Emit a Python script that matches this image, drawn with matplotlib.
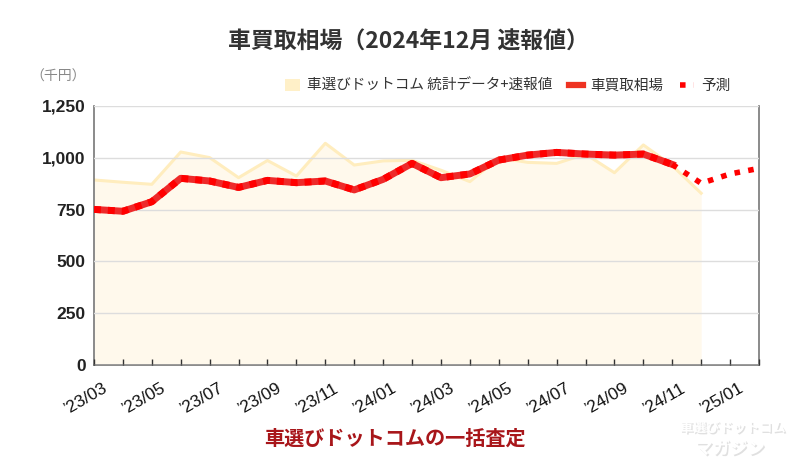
import matplotlib
matplotlib.use("Agg")
import matplotlib.pyplot as plt
from matplotlib.lines import Line2D
from matplotlib.patches import Patch
from matplotlib.transforms import ScaledTranslation
import matplotlib.patheffects as pe

plt.rcParams['font.family'] = ['Liberation Sans', 'Noto Sans CJK JP', 'DejaVu Sans']

months = ["'23/03", "'23/04", "'23/05", "'23/06", "'23/07", "'23/08", "'23/09", "'23/10",
          "'23/11", "'23/12", "'24/01", "'24/02", "'24/03", "'24/04", "'24/05", "'24/06",
          "'24/07", "'24/08", "'24/09", "'24/10", "'24/11", "'24/12", "'25/01", "'25/02"]
month_labels = [m.replace("'", "\u2019") for m in months]

# 車選びドットコム 統計データ+速報値 ('23/03 .. '24/12)
stats_values = [893, 882, 872, 1028, 1001, 904, 987, 912, 1070, 965, 985, 988, 940,
                885, 1000, 978, 973, 1018, 928, 1062, 962, 829]
# 車買取相場 ('23/03 .. '24/11)
market_values = [751, 742, 788, 901, 888, 857, 891, 880, 888, 845, 896, 973, 904,
                 922, 989, 1013, 1026, 1018, 1013, 1018, 968]
# 予測 ('24/11 .. '25/02)
forecast_values = [968, 877, 922, 949]

y_ticks = [0, 250, 500, 750, 1000, 1250]
y_tick_labels = ["0", "250", "500", "750", "1,000", "1,250"]

fig = plt.figure(figsize=(7.99, 4.71), dpi=100)
ax = fig.add_axes([94/799, 1-365/471, (759-94)/799, (365-106)/471])

x_stats = list(range(len(stats_values)))
x_market = list(range(len(market_values)))
x_fore = list(range(len(market_values)-1, len(market_values)-1+len(forecast_values)))

ax.fill_between(x_stats, stats_values, 0, color='#FFF9EC', zorder=1, linewidth=0)
ax.plot(x_stats, stats_values, color='#FFEDBE', lw=2.2, zorder=2)
ax.plot(x_market, market_values, color='#EE2A2A', lw=5, zorder=4, solid_joinstyle='round')
ax.plot(x_market, market_values, color='#FF0000', lw=5, zorder=5, linestyle=(0, (1, 1)),
        dash_capstyle='butt')
ax.plot(x_fore, forecast_values, color='#FF0000', lw=4, zorder=4, linestyle=(0, (1, 1.5)),
        dash_capstyle='butt')

ax.set_xlim(0, len(months)-1)
ax.set_ylim(0, 1250)
ax.set_yticks(y_ticks)
ax.set_yticklabels(y_tick_labels, fontsize=12.5, fontweight='bold', color='#222222')
ax.tick_params(axis='y', length=0, pad=6)
ax.yaxis.grid(True, color='#DDDDDD', lw=1)
ax.set_axisbelow(False)
for gl in ax.get_ygridlines():
    gl.set_zorder(1.5)

ax.set_xticks(range(len(months)))
ax.set_xticklabels([l if i % 2 == 0 else '' for i, l in enumerate(month_labels)],
                   fontsize=12.5, color='#111111', rotation=30, ha='right', va='top',
                   rotation_mode='anchor')
ax.tick_params(axis='x', direction='in', length=4, width=1, color='#333333', pad=11)
offset = ScaledTranslation(9/100, 0, fig.dpi_scale_trans)
for lab in ax.get_xticklabels():
    lab.set_transform(lab.get_transform() + offset)

ax.spines['top'].set_visible(False)
for s in ['left', 'bottom', 'right']:
    ax.spines[s].set_color('#777777')
    ax.spines[s].set_linewidth(1.2)

fig.text(408/799, 1-42/471, "車買取相場（2024年12月 速報値）", ha='center', va='center',
         fontsize=16.5, fontweight='bold', color='#333333', family=['Noto Sans CJK JP'])
fig.text(30/799, 1-77/471, "（千円）", ha='left', va='center', fontsize=10,
         color='#888888', family=['Noto Sans CJK JP'])

handles = [Patch(facecolor='#FFF0C8', edgecolor='none'),
           Line2D([], [], color='#EE3322', lw=4.5),
           Line2D([], [], color='#FF0000', lw=4, linestyle=(0, (1, 1.5)))]
labels = ["車選びドットコム 統計データ+速報値", "車買取相場", "予測"]
leg = fig.legend(handles, labels, loc='center right', bbox_to_anchor=(744/799, 1-86/471),
                 ncol=3, frameon=False, handlelength=1.0, handleheight=0.9,
                 handletextpad=0.5, columnspacing=1.1,
                 prop={'family': ['Noto Sans CJK JP'], 'size': 10.5})
for t in leg.get_texts():
    t.set_color('#333333')

fig.text(395/799, 1-438/471, "車選びドットコムの一括査定", ha='center', va='center',
         fontsize=14.5, fontweight='bold', color='#A8161A', family=['Noto Sans CJK JP'])

shadow = [pe.withSimplePatchShadow(offset=(1, -1), shadow_rgbFace='#cccccc', alpha=0.6)]
fig.text(733/799, 1-428/471, "車選びドットコム", ha='center', va='center', fontsize=9.5,
         fontweight='bold', color='white', family=['Noto Sans CJK JP'], path_effects=shadow)
fig.text(730/799, 1-449/471, "マガジン", ha='center', va='center', fontsize=12.5,
         fontweight='bold', color='white', family=['Noto Sans CJK JP'], path_effects=shadow)

fig.savefig('out.png', dpi=100)
